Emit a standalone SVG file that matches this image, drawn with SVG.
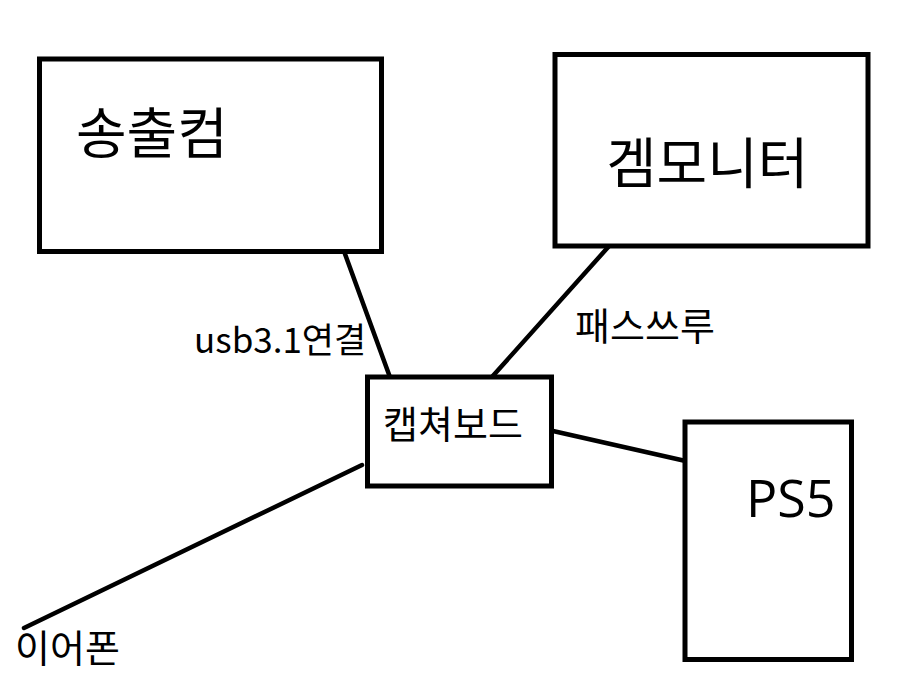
<svg xmlns="http://www.w3.org/2000/svg" width="900" height="698" viewBox="0 0 900 698">
<style>
.box{fill:#fff;stroke:#000;stroke-width:5}
.ln{stroke:#000;stroke-width:4.5;stroke-linecap:round;fill:none}
text{font-family:"Noto Sans CJK KR","Open Sans",sans-serif;fill:#000}
.big{font-size:55px}
.mid{font-size:38px}
.lbl{font-size:38px}
.usb{font-size:35px}
.ps{font-family:"Open Sans","Noto Sans CJK KR",sans-serif;font-size:52px}
</style>
<rect x="0" y="0" width="900" height="698" fill="#fff"/>
<g id="connectors">
<line class="ln" x1="345" y1="254" x2="391" y2="380"/>
<line class="ln" x1="610" y1="245" x2="491" y2="378"/>
<line class="ln" x1="553" y1="431" x2="690" y2="462"/>
<line class="ln" x1="362" y1="465" x2="24" y2="628"/>
<text class="usb" x="194" y="353">usb3.1연결</text>
<text class="lbl" x="575" y="340">패스쓰루</text>
</g>
<g id="pc">
<rect class="box" x="39.5" y="59" width="342" height="192.5"/>
<text class="big" x="76" y="153">송출컴</text>
</g>
<g id="monitor">
<rect class="box" x="555" y="54.5" width="313" height="191.5"/>
<text class="big" x="606" y="183">겜모니터</text>
</g>
<g id="capture">
<rect class="box" x="367.5" y="377" width="184" height="109"/>
<text class="mid" x="383" y="438">캡쳐보드</text>
</g>
<g id="ps5">
<rect class="box" x="685" y="422" width="166.5" height="237.5"/>
<text class="ps" x="746" y="517">PS5</text>
</g>
<g id="earphone">
<text class="lbl" x="15" y="662">이어폰</text>
</g>
</svg>
